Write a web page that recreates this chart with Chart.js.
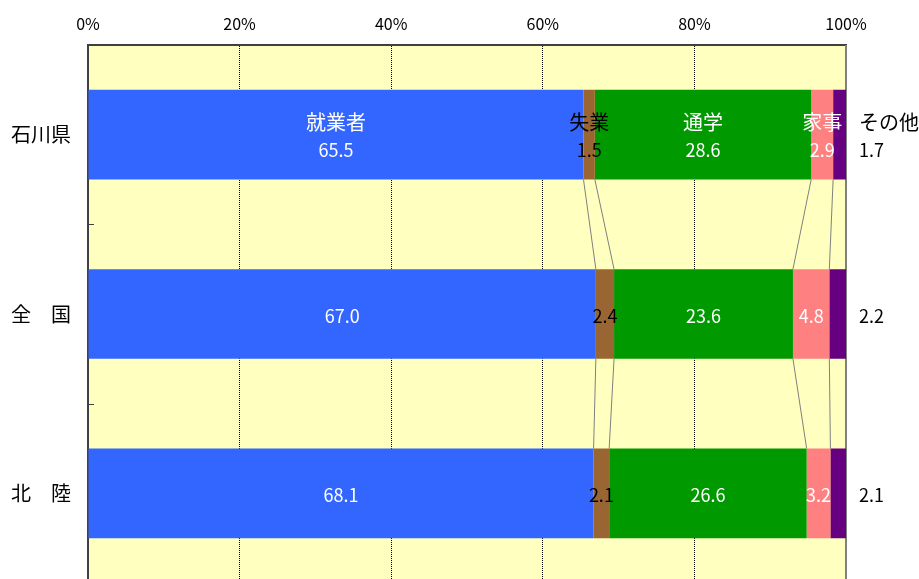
<!DOCTYPE html>
<html lang="ja">
<head>
  <meta charset="UTF-8">
  <title>就業状態別 構成比</title>
  <script src="https://cdn.jsdelivr.net/npm/chart.js"></script>
  <style>
    html, body {
      margin: 0;
      padding: 0;
      background: #fff;
      overflow: hidden;
    }
    #statusChart {
      display: block;
    }
  </style>
</head>
<body>
  <canvas id="statusChart" width="919" height="584"></canvas>

  <script>
    const categories = ['石川県', '全　国', '北　陸'];
    const seriesNames = ['就業者', '失業', '通学', '家事', 'その他'];
    const employed   = [65.5, 67.0, 68.1];
    const unemployed = [1.5, 2.4, 2.1];
    const school     = [28.6, 23.6, 26.6];
    const housework  = [2.9, 4.8, 3.2];
    const other      = [1.7, 2.2, 2.1];
    const xTicks = [0, 20, 40, 60, 80, 100];

    const series = [employed, unemployed, school, housework, other];
    const colors = ['#3366FF', '#996633', '#009900', '#FF8080', '#660080'];
    const labelColors = ['#fff', '#000', '#fff', '#fff', '#000'];

    // 100% stacked: each bar is scaled to its own total
    const totals = categories.map((c, i) => series.reduce((s, arr) => s + arr[i], 0));

    const datasets = series.map((arr, k) => ({
      label: seriesNames[k],
      data: arr.map((v, i) => v / totals[i] * 100),
      raw: arr,
      backgroundColor: colors[k],
      borderWidth: 0,
      barPercentage: 0.5,
      categoryPercentage: 1.0,
    }));

    const JP = "'Noto Sans CJK JP', 'Noto Sans', sans-serif";

    const plotBackground = {
      id: 'plotBackground',
      beforeDraw(chart) {
        const { ctx, chartArea: a } = chart;
        ctx.save();
        ctx.fillStyle = '#FFFFC0';
        ctx.fillRect(a.left, a.top, a.right - a.left, a.bottom - a.top);
        ctx.restore();
      }
    };

    // series lines between bars, inner ticks, right frame
    const seriesLines = {
      id: 'seriesLines',
      beforeDatasetsDraw(chart) {
        const { ctx, chartArea: a } = chart;
        const x = chart.scales.x;
        const y = chart.scales.y;
        ctx.save();
        ctx.strokeStyle = '#808080';
        ctx.lineWidth = 2;
        ctx.beginPath();
        ctx.moveTo(x.getPixelForValue(100), a.top);
        ctx.lineTo(x.getPixelForValue(100), a.bottom);
        ctx.stroke();

        ctx.strokeStyle = '#404040';
        ctx.lineWidth = 1;
        for (let i = 0; i < categories.length - 1; i++) {
          const py = Math.round(y.getPixelForValue(i + 0.5)) + 0.5;
          ctx.beginPath();
          ctx.moveTo(a.left, py);
          ctx.lineTo(a.left + 6, py);
          ctx.stroke();
        }

        ctx.strokeStyle = '#808080';
        ctx.lineWidth = 1;
        for (let k = 0; k < series.length - 1; k++) {
          const els = chart.getDatasetMeta(k).data;
          for (let i = 0; i < els.length - 1; i++) {
            const p = els[i].getProps(['x', 'y', 'height'], true);
            const q = els[i + 1].getProps(['x', 'y', 'height'], true);
            ctx.beginPath();
            ctx.moveTo(p.x, p.y + p.height / 2);
            ctx.lineTo(q.x, q.y - q.height / 2);
            ctx.stroke();
          }
        }
        ctx.restore();
      }
    };

    const valueLabels = {
      id: 'valueLabels',
      afterDatasetsDraw(chart) {
        const { ctx } = chart;
        ctx.save();
        ctx.textBaseline = 'middle';
        datasets.forEach((ds, k) => {
          chart.getDatasetMeta(k).data.forEach((el, i) => {
            const p = el.getProps(['x', 'y', 'base'], true);
            const text = ds.raw[i].toFixed(1);
            const last = k === series.length - 1;
            const cx = last ? p.x + 13 : (p.x + p.base) / 2;
            ctx.textAlign = last ? 'left' : 'center';
            ctx.fillStyle = labelColors[k];
            if (i === 0) {
              ctx.font = '20px ' + JP;
              ctx.fillText(ds.label, cx, p.y - 12);
              ctx.font = '18px ' + JP;
              ctx.fillText(text, cx, p.y + 15);
            } else {
              ctx.font = '18px ' + JP;
              ctx.fillText(text, cx, p.y + 2);
            }
          });
        });
        ctx.restore();
      }
    };

    const ctx = document.getElementById('statusChart').getContext('2d');
    const statusChart = new Chart(ctx, {
      type: 'bar',
      data: { labels: categories, datasets: datasets },
      options: {
        indexAxis: 'y',
        responsive: false,
        animation: false,
        devicePixelRatio: 1,
        layout: { padding: { top: 0, right: 73, bottom: 1, left: 0 } },
        plugins: {
          legend: { display: false },
          tooltip: { enabled: false },
        },
        scales: {
          x: {
            position: 'top',
            stacked: true,
            min: 0,
            max: 100,
            afterBuildTicks(scale) {
              scale.ticks = xTicks.map(v => ({ value: v }));
            },
            afterFit(scale) {
              scale.height = 45;
              scale.paddingLeft = 0;
              scale.paddingRight = 0;
            },
            ticks: {
              padding: 11,
              color: '#000',
              font: { family: JP, size: 16 },
              callback: v => v + '%',
            },
            grid: {
              drawTicks: false,
              color: c => (c.tick && (c.tick.value === 0 || c.tick.value === 100)) ? 'rgba(0,0,0,0)' : '#000',
              lineWidth: 1,
            },
            border: { display: true, color: '#404040', width: 2, dash: [1, 1] },
          },
          y: {
            stacked: true,
            afterFit(scale) {
              scale.width = 88;
              scale.paddingTop = 0;
              scale.paddingBottom = 0;
            },
            ticks: {
              padding: 9,
              color: '#000',
              font: { family: JP, size: 20 },
            },
            grid: { display: false },
            border: { display: true, color: '#404040', width: 2 },
          },
        },
      },
      plugins: [plotBackground, seriesLines, valueLabels],
    });
  </script>
</body>
</html>
